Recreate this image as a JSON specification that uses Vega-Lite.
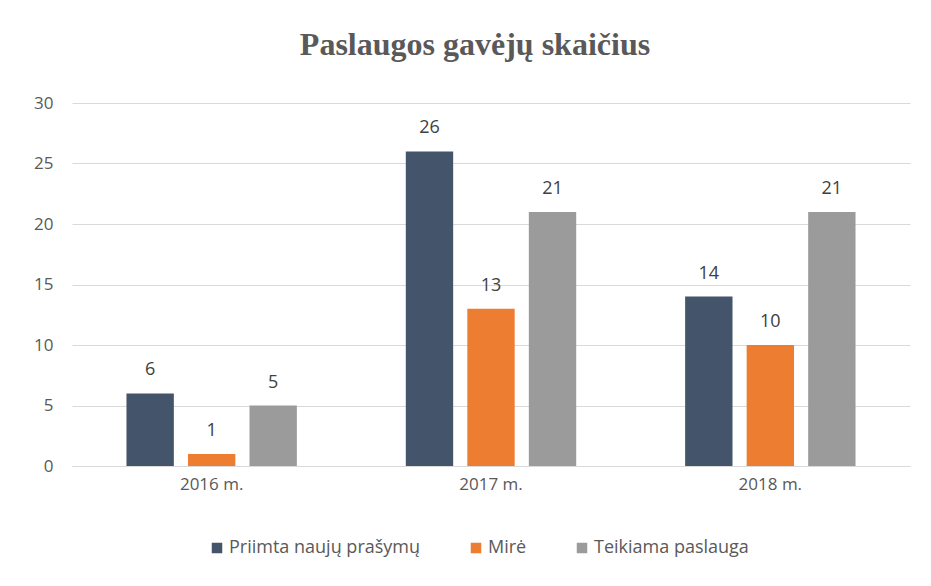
{
  "$schema": "https://vega.github.io/schema/vega-lite/v6.json",
  "width": 838,
  "height": 363,
  "autosize": {"type": "none"},
  "padding": {"left": 72, "top": 103, "right": 21, "bottom": 120},
  "background": "white",
  "title": {
    "text": "Paslaugos gavėjų skaičius",
    "font": "Liberation Serif",
    "fontSize": 32,
    "fontWeight": "bold",
    "color": "#595959",
    "anchor": "middle",
    "offset": 32,
    "dx": -16
  },
  "data": {
    "values": [
      {"year": "2016 m.", "series": "Priimta naujų prašymų", "value": 6},
      {"year": "2016 m.", "series": "Mirė", "value": 1},
      {"year": "2016 m.", "series": "Teikiama paslauga", "value": 5},
      {"year": "2017 m.", "series": "Priimta naujų prašymų", "value": 26},
      {"year": "2017 m.", "series": "Mirė", "value": 13},
      {"year": "2017 m.", "series": "Teikiama paslauga", "value": 21},
      {"year": "2018 m.", "series": "Priimta naujų prašymų", "value": 14},
      {"year": "2018 m.", "series": "Mirė", "value": 10},
      {"year": "2018 m.", "series": "Teikiama paslauga", "value": 21}
    ]
  },
  "encoding": {
    "x": {
      "field": "year", "type": "nominal", "title": null,
      "scale": {"paddingInner": 0.39, "paddingOuter": 0.195},
      "axis": {"labelAngle": 0, "labelFont": "Open Sans", "labelFontSize": 17, "labelColor": "#595959", "labelPadding": 10, "ticks": false, "domainColor": "#d9d9d9", "domainWidth": 1}
    },
    "xOffset": {
      "field": "series", "type": "nominal",
      "sort": ["Priimta naujų prašymų", "Mirė", "Teikiama paslauga"],
      "scale": {"paddingInner": 0.23, "paddingOuter": 0}
    },
    "y": {
      "field": "value", "type": "quantitative", "title": null,
      "scale": {"domain": [0, 30]},
      "axis": {"values": [0, 5, 10, 15, 20, 25, 30], "labelFont": "Open Sans", "labelFontSize": 17, "labelColor": "#595959", "labelPadding": 19, "ticks": false, "domain": false, "gridColor": "#d9d9d9", "gridWidth": 1}
    }
  },
  "layer": [
    {
      "mark": {"type": "bar"},
      "encoding": {
        "color": {
          "field": "series", "type": "nominal",
          "sort": ["Priimta naujų prašymų", "Mirė", "Teikiama paslauga"],
          "scale": {"domain": ["Priimta naujų prašymų", "Mirė", "Teikiama paslauga"], "range": ["#44546A", "#ED7D31", "#9b9b9b"]},
          "legend": {"orient": "none", "legendX": 136, "legendY": 436, "direction": "horizontal", "title": null, "symbolType": "square", "symbolSize": 110, "symbolStrokeWidth": 0, "labelFont": "Open Sans", "labelFontSize": 18, "labelColor": "#595959", "labelOffset": 3, "labelLimit": 400, "columnPadding": 46}
        }
      }
    },
    {
      "mark": {"type": "text", "baseline": "bottom", "dy": -14, "font": "Open Sans", "fontSize": 18, "color": "#404040"},
      "encoding": {"text": {"field": "value", "type": "quantitative"}}
    }
  ],
  "config": {"view": {"stroke": null}}
}
